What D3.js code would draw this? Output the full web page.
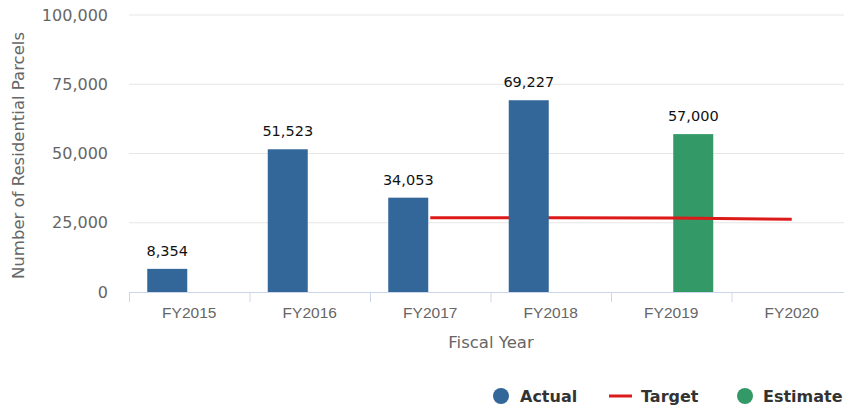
<!DOCTYPE html>
<html>
<head>
<meta charset="utf-8">
<script src="https://cdn.jsdelivr.net/npm/d3@7"></script>
<style>
  html, body { margin: 0; padding: 0; background: #fff; }
  svg { display: block; font-family: "DejaVu Sans", Verdana, sans-serif; }
</style>
</head>
<body>
<svg id="chart" width="844" height="408"></svg>
<script>
// Residential parcels by fiscal year
const categories = ["FY2015", "FY2016", "FY2017", "FY2018", "FY2019", "FY2020"];
const actual   = [8354, 51523, 34053, 69227, null, null];
const estimate = [null, null, null, null, 57000, null];
const target   = [null, null, 26800, 26800, 26700, 26300];
const yTicks   = [0, 25000, 50000, 75000, 100000];

const colors = { actual: "#336699", estimate: "#339966", target: "#dd1a1a" };

const svg = d3.select("#chart");
const plot = { left: 129, right: 852, top: 15, bottom: 292 };

const x = d3.scaleBand().domain(categories).range([plot.left, plot.right]).padding(0);
const y = d3.scaleLinear().domain([0, 100000]).range([plot.bottom, plot.top]);
const fmt = d3.format(",");

const barW = 40, barOffset = 22;

// gridlines
svg.append("g").selectAll("line").data(yTicks.filter(d => d > 0)).join("line")
  .attr("x1", plot.left).attr("x2", plot.right)
  .attr("y1", d => y(d)).attr("y2", d => y(d))
  .attr("stroke", "#e6e6e6").attr("stroke-width", 1);

// y axis labels
const yAxis = d3.axisLeft(y).tickValues(yTicks).tickFormat(fmt).tickSize(0).tickPadding(0);
svg.append("g").attr("transform", `translate(${plot.left - 21},0)`).call(yAxis)
  .call(g => g.select(".domain").remove())
  .call(g => g.selectAll("text").attr("fill", "#666").attr("font-size", 16).attr("font-family", "DejaVu Sans"));

// y axis title
svg.append("text")
  .attr("transform", `translate(24,${(plot.top + plot.bottom) / 2 + 2}) rotate(-90)`)
  .attr("text-anchor", "middle").attr("fill", "#666").attr("font-size", 16.5)
  .text("Number of Residential Parcels");

// estimate bars (right slot)
svg.append("g").selectAll("rect").data(categories.map((c, i) => ({ c, v: estimate[i] })).filter(d => d.v != null))
  .join("rect")
  .attr("x", d => x(d.c) + x.bandwidth() / 2 + barOffset - barW / 2)
  .attr("y", d => y(d.v)).attr("width", barW).attr("height", d => y(0) - y(d.v))
  .attr("fill", colors.estimate);

// target line
const tData = categories.map((c, i) => ({ c, v: target[i] })).filter(d => d.v != null);
svg.append("path").datum(tData)
  .attr("d", d3.line().x(d => x(d.c) + x.bandwidth() / 2).y(d => y(d.v)))
  .attr("fill", "none").attr("stroke", colors.target).attr("stroke-width", 3);

// actual bars (left slot)
svg.append("g").selectAll("rect").data(categories.map((c, i) => ({ c, v: actual[i] })).filter(d => d.v != null))
  .join("rect")
  .attr("x", d => x(d.c) + x.bandwidth() / 2 - barOffset - barW / 2)
  .attr("y", d => y(d.v)).attr("width", barW).attr("height", d => y(0) - y(d.v))
  .attr("fill", colors.actual);

// data labels
const labels = [
  ...categories.map((c, i) => ({ c, v: actual[i], dx: -barOffset })),
  ...categories.map((c, i) => ({ c, v: estimate[i], dx: barOffset }))
].filter(d => d.v != null);
svg.append("g").selectAll("text").data(labels).join("text")
  .attr("x", d => x(d.c) + x.bandwidth() / 2 + d.dx)
  .attr("y", d => y(d.v) - 13)
  .attr("text-anchor", "middle").attr("fill", "#111").attr("font-size", 14.5)
  .text(d => fmt(d.v));

// x axis
const xAxis = d3.axisBottom(x).tickSize(0).tickPadding(0);
const gx = svg.append("g").attr("transform", `translate(0,${plot.bottom})`).call(xAxis);
gx.select(".domain").remove();
gx.selectAll(".tick text").attr("fill", "#666").attr("font-size", 15.5).attr("dy", "1.65em");
gx.append("line").attr("x1", plot.left).attr("x2", plot.right).attr("y1", 0.5).attr("y2", 0.5)
  .attr("stroke", "#ccd6eb");
gx.selectAll(".sep").data(categories).join("line").attr("class", "sep")
  .attr("x1", d => x(d) + 0.5).attr("x2", d => x(d) + 0.5)
  .attr("y1", 0).attr("y2", 10).attr("stroke", "#ccd6eb");

svg.append("text").attr("x", 491).attr("y", 348)
  .attr("text-anchor", "middle").attr("fill", "#666").attr("font-size", 16.5)
  .text("Fiscal Year");

// legend
const legend = svg.append("g").attr("font-size", 16).attr("font-weight", "bold").attr("fill", "#333");
legend.append("circle").attr("cx", 501).attr("cy", 396).attr("r", 8).attr("fill", colors.actual);
legend.append("text").attr("x", 520).attr("y", 402).text("Actual");
legend.append("line").attr("x1", 609).attr("x2", 632).attr("y1", 396).attr("y2", 396)
  .attr("stroke", colors.target).attr("stroke-width", 3);
legend.append("text").attr("x", 641).attr("y", 402).text("Target");
legend.append("circle").attr("cx", 745).attr("cy", 396).attr("r", 8).attr("fill", colors.estimate);
legend.append("text").attr("x", 763).attr("y", 402).text("Estimate");
</script>
</body>
</html>
